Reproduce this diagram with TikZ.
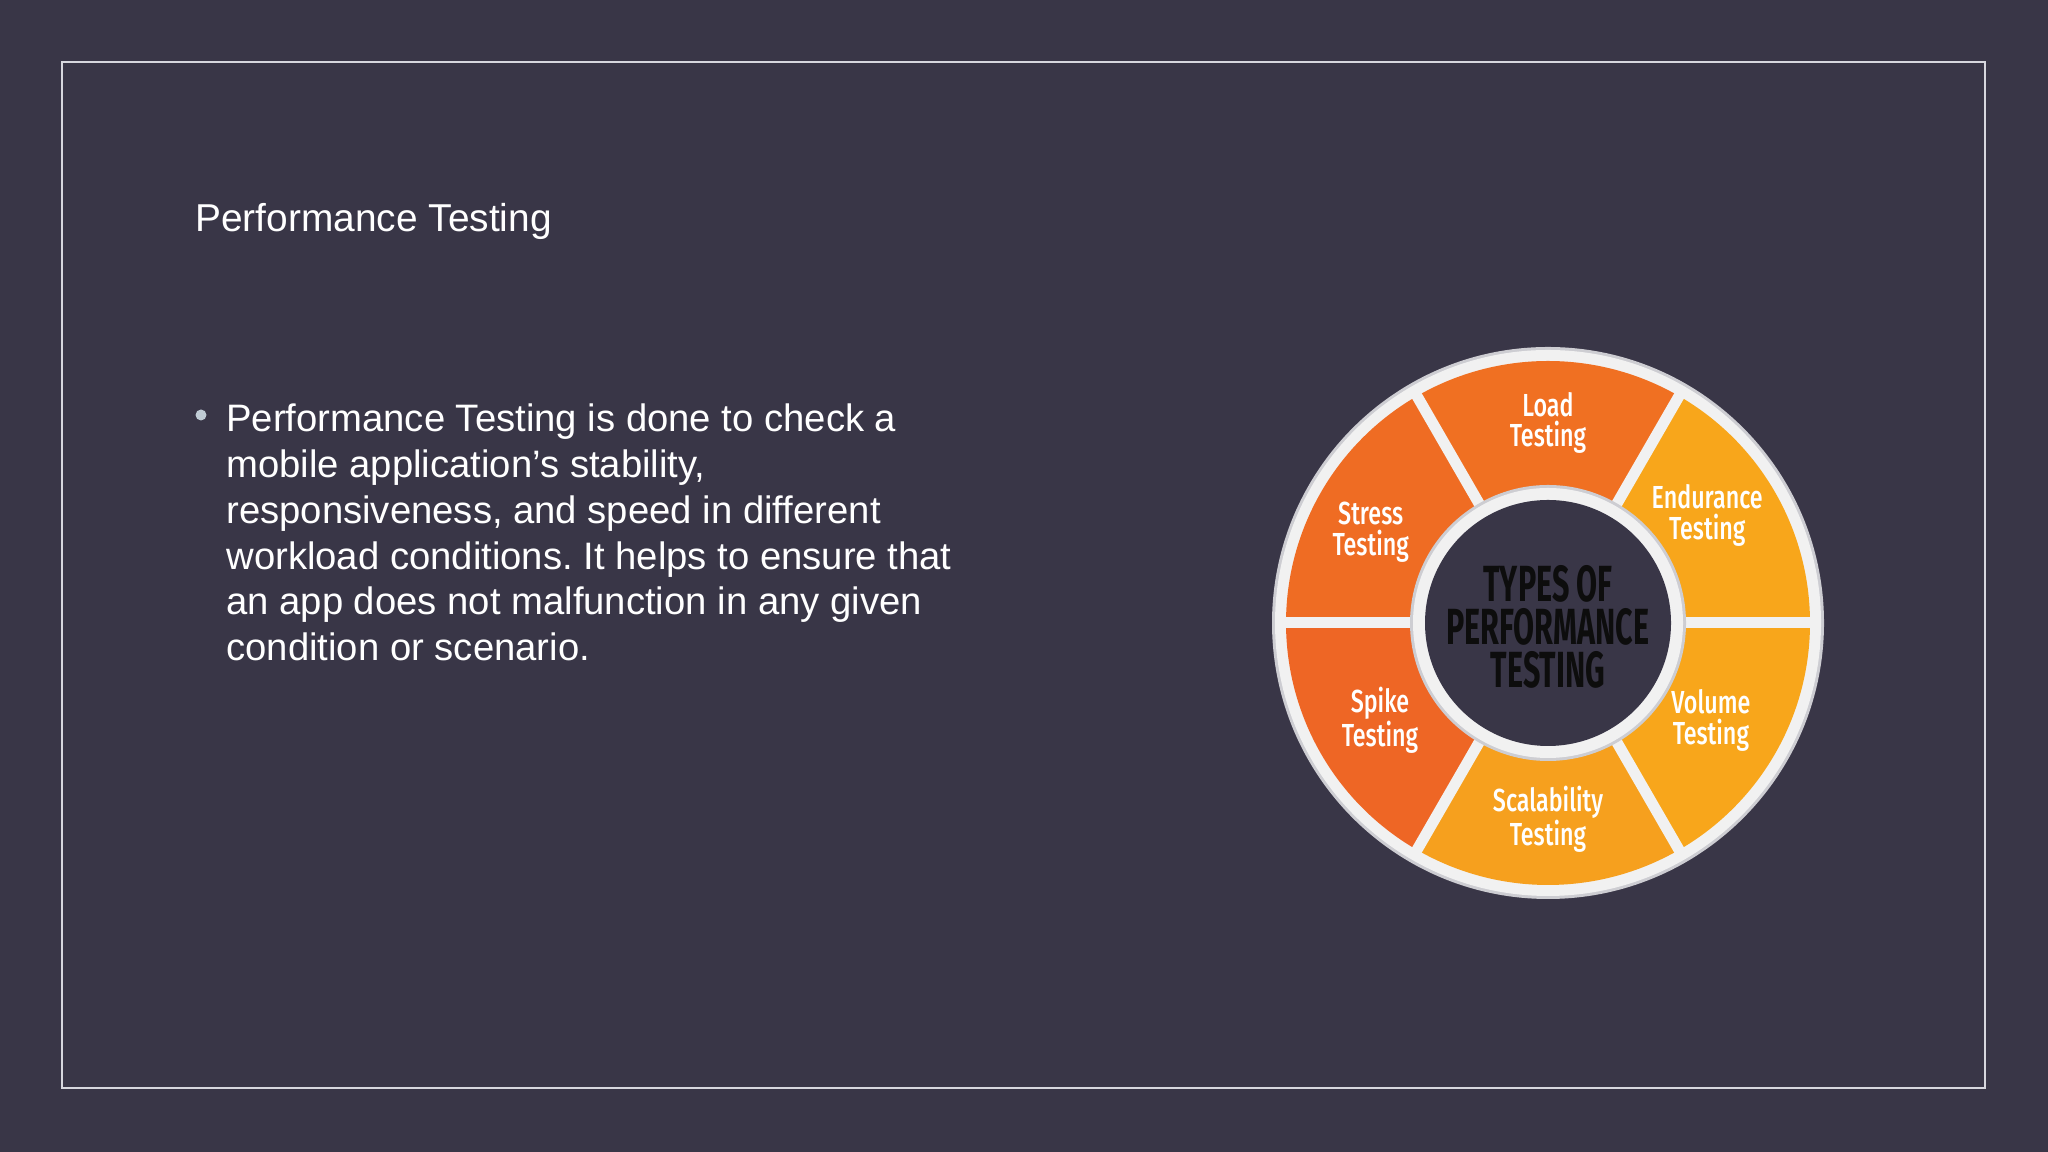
\documentclass[tikz,border=0pt]{standalone}
\usepackage{fontspec}
\setmainfont{Liberation Sans}
\newfontfamily\segfont[FakeStretch=0.73]{Fira Sans Medium}
\newfontfamily\hubfont[FakeStretch=0.6]{Fira Sans}
\usetikzlibrary{positioning}
\definecolor{slidebg}{RGB}{57,54,71}
\definecolor{framegray}{RGB}{215,215,222}
\definecolor{bulletgray}{RGB}{192,204,213}
\definecolor{ringwhite}{RGB}{241,241,241}
\definecolor{ringshade}{RGB}{205,205,210}
\definecolor{deeporange}{RGB}{239,108,35}
\definecolor{spikeorange}{RGB}{238,102,37}
\definecolor{loadorange}{RGB}{240,112,34}
\definecolor{amber}{RGB}{248,166,27}
\definecolor{scaleamber}{RGB}{246,160,30}
\tikzset{
  slidetext/.style={anchor=base west,inner sep=0,text=white,font=\fontsize{19.2}{23}\selectfont},
  seglabel/.style={text=white,align=center,inner sep=0,font=\segfont\fontsize{16}{15.5}\selectfont},
  hublabel/.style={text=black!95,align=center,inner sep=0,font=\hubfont\bfseries\fontsize{25.5}{21.5}\selectfont}
}
\frenchspacing

\begin{document}
\begin{tikzpicture}[x=0.5bp,y=0.5bp]
    % Slide background and frame
    \fill[slidebg] (0,0) rectangle (2048,1152);
    \useasboundingbox (0,0) rectangle (2048,1152);
    \draw[framegray,line width=1bp] (61.5,64) rectangle (1985,1089.5);
    % Title and bullet
    \node[slidetext,font=\fontsize{19.5}{23}\selectfont] (title) at (195,920) {Performance Testing};
    \fill[bulletgray] (201,737) circle (5.5);
    \node[slidetext,anchor=north west,align=left] (body) at (226,748.5) {Performance Testing is done to check a\\
        mobile application’s stability,\\
        responsiveness, and speed in different\\
        workload conditions. It helps to ensure that\\
        an app does not malfunction in any given\\
        condition or scenario.};
    % Wheel
    \coordinate (hub) at (1548,529);
    \fill[ringshade] (hub) circle (276);
    \fill[ringwhite] (hub) circle (273);
    \foreach \ang/\col in {60/loadorange,0/amber,300/amber,240/scaleamber,180/spikeorange,120/deeporange}
        \fill[\col] (hub) -- ([shift={(\ang:262)}]hub) arc[start angle=\ang,end angle=\ang+60,radius=262] -- cycle;
    \foreach \ang in {0,60,...,300}
        \draw[ringwhite,line width=5.5bp] ([shift={(\ang:120)}]hub) -- ([shift={(\ang:266)}]hub);
    \fill[ringshade] (hub) circle (138);
    \fill[ringwhite] (hub) circle (135);
    \fill[slidebg] (hub) circle (123);
    % Segment labels
    \foreach \ang/\rad/\nm/\txt in {90/200/load/{Load\\Testing},34/192/endurance/{Endurance\\Testing},
        -31/190/volume/{Volume\\Testing},270/196/scalability/{Scalability\\Testing},
        210/194/spike/{Spike\\Testing},153/199/stress/{Stress\\Testing}}
        \node[seglabel] (\nm) at ([shift={(\ang:\rad)}]hub) {\txt};
    \node[hublabel] (types) at ([yshift=-2]hub) {TYPES OF\\PERFORMANCE\\TESTING};
\end{tikzpicture}
\end{document}
